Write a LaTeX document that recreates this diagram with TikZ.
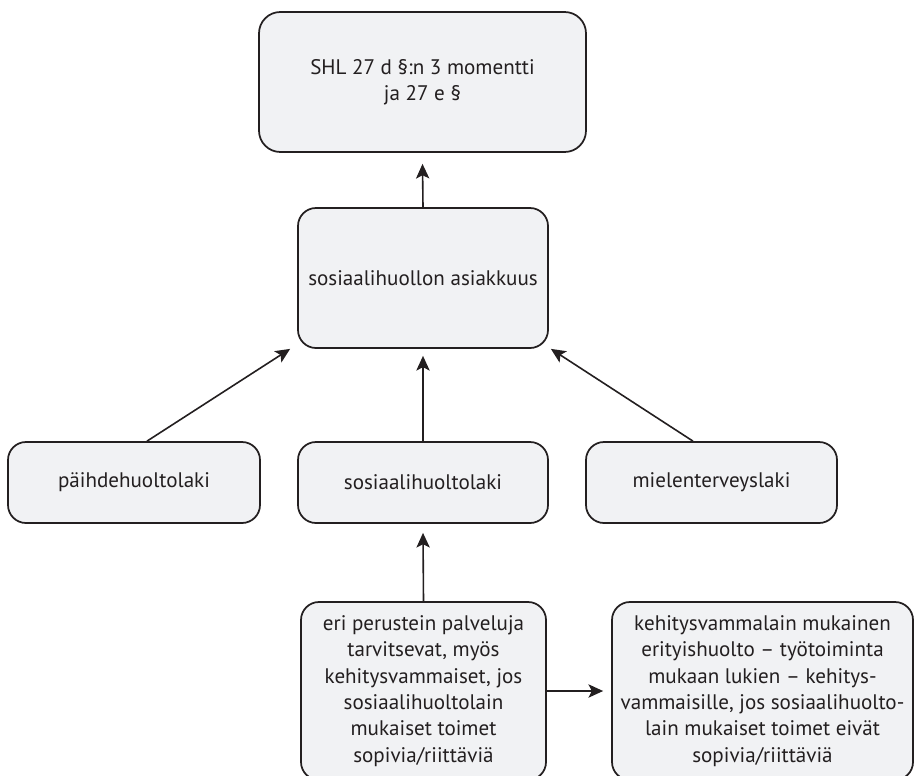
\documentclass[tikz,border=0pt]{standalone}
\usepackage{fontspec}
\setmainfont{PT Sans}
\usetikzlibrary{arrows.meta}
\definecolor{boxfill}{RGB}{241,242,244}
\definecolor{ink}{RGB}{35,31,32}
\tikzset{
  law/.style={draw=ink, line width=1.3pt, fill=boxfill, rounded corners=13.5pt,
    align=center, inner sep=0pt, text=ink,
    font=\fontsize{15.8}{19.8}\selectfont},
  link/.style={draw=ink, line width=1.2pt,
    -{Stealth[length=11pt,width=10pt,inset=2.5pt]}}
}
\begin{document}
\begin{tikzpicture}[x=0.75pt,y=-0.75pt]
\useasboundingbox (0,0) rectangle (914,775);
% upper levels
\node[law, minimum width=245.25pt, minimum height=105pt, rounded corners=16pt]
  (shl) at (422.5,82) {SHL 27 d §:n 3 momentti\\ja 27 e §};
\node[law, minimum width=187.5pt, minimum height=105pt]
  (asiakkuus) at (423,278) {sosiaalihuollon asiakkuus};
% the three acts
\node[law, minimum width=189pt, minimum height=60.75pt]
  (paihde) at (134,482.5) {päihdehuoltolaki};
\node[law, minimum width=187.5pt, minimum height=60.75pt]
  (sosiaali) at (423,482.5) {sosiaalihuoltolaki};
\node[law, minimum width=188.25pt, minimum height=60.75pt]
  (mielen) at (711.5,482.5) {mielenterveyslaki};
% bottom row
\node[law, minimum width=183.75pt, minimum height=133.5pt]
  (eri) at (423.5,691) {eri perustein palveluja\\tarvitsevat, myös\\kehitysvammaiset, jos\\sosiaalihuoltolain\\mukaiset toimet\\sopivia/riittäviä};
\node[law, minimum width=225.75pt, minimum height=133.5pt]
  (kehitys) at (762.5,691) {kehitysvammalain mukainen\\erityishuolto – työtoiminta\\mukaan lukien – kehitys-\\vammaisille, jos sosiaalihuolto-\\lain mukaiset toimet eivät\\sopivia/riittäviä};
% connectors
\draw[link] (asiakkuus.north) -- ([yshift=-8.25pt]shl.south);
\draw[link] ([xshift=9.75pt]paihde.north) -- ([xshift=-5.25pt]asiakkuus.south west);
\draw[link] (sosiaali.north) -- ([yshift=-5.25pt]asiakkuus.south);
\draw[link] ([xshift=-13.9pt]mielen.north) -- ([xshift=1.5pt]asiakkuus.south east);
\draw[link] (eri.north) -- ([yshift=-6.75pt]sosiaali.south);
\draw[link] (eri.east) -- ([xshift=-6pt]kehitys.west);
\end{tikzpicture}
\end{document}
